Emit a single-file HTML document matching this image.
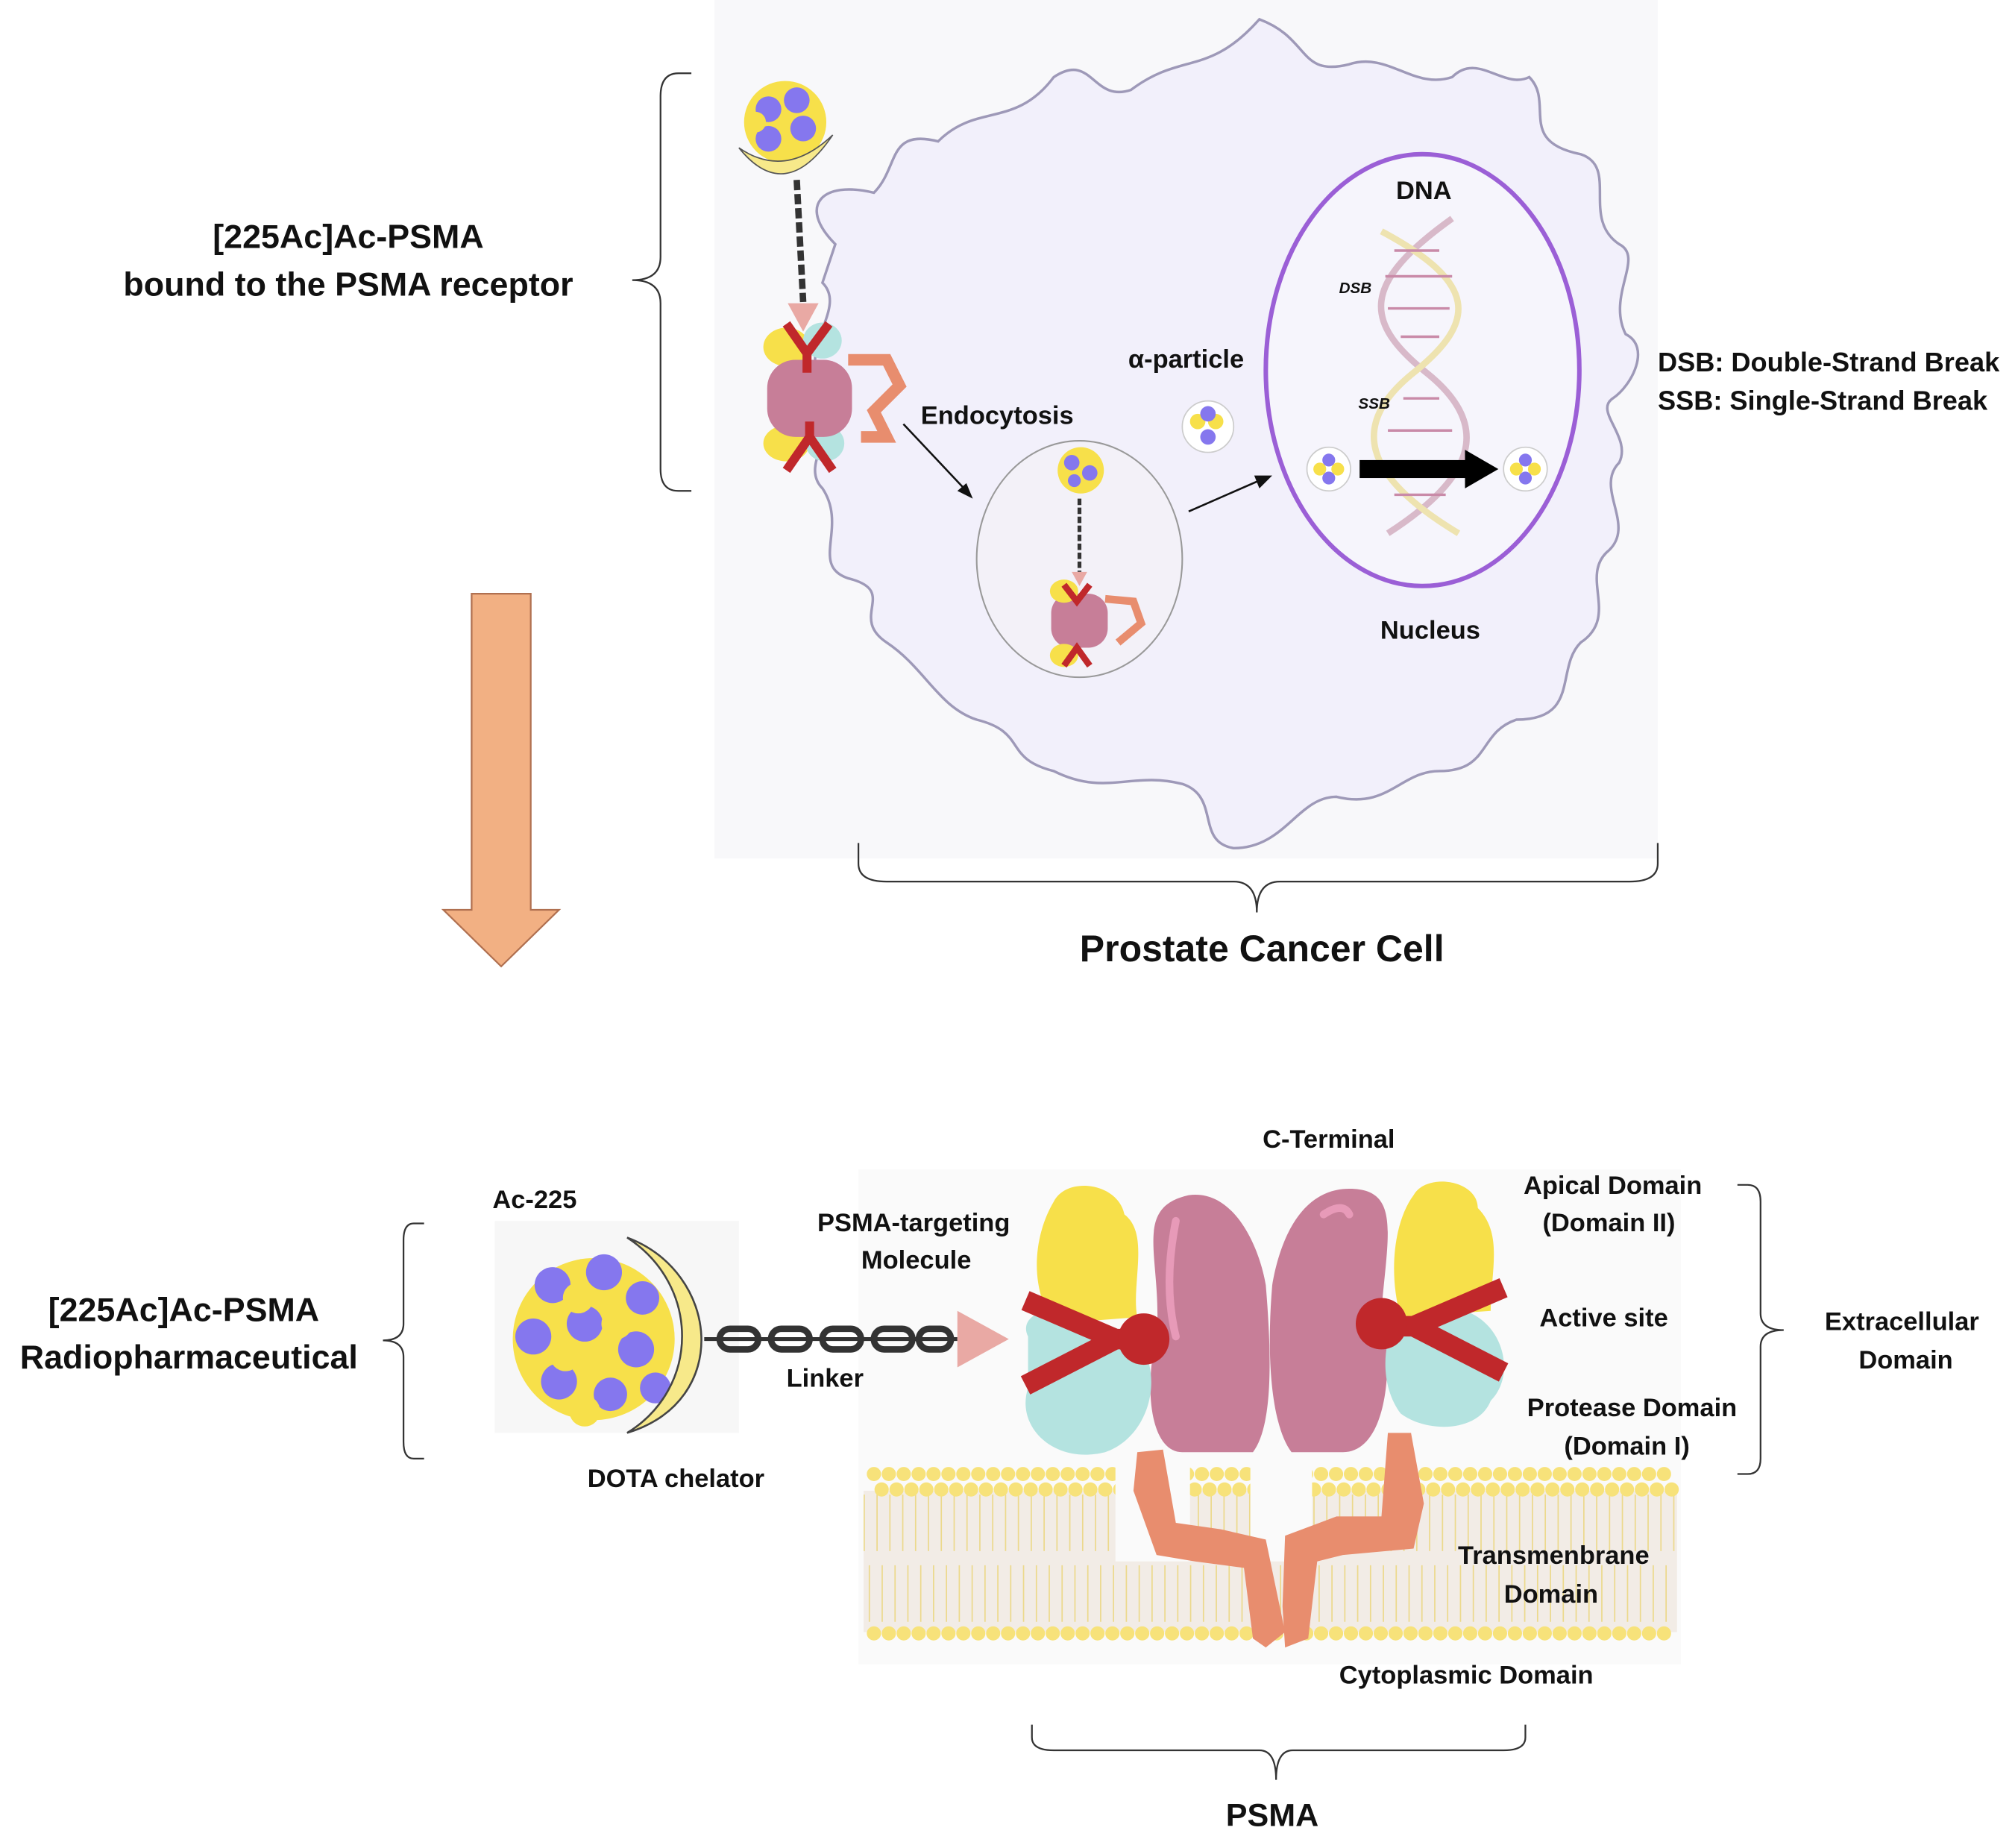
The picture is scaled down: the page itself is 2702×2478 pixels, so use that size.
<!DOCTYPE html>
<html><head><meta charset="utf-8"><style>
html,body{margin:0;padding:0;background:#fff}
svg{display:block}
text{font-family:"Liberation Sans",sans-serif;font-weight:bold;fill:#111}
</style></head><body>
<svg width="2702" height="2478" viewBox="0 0 1568 1438" preserveAspectRatio="none" xmlns="http://www.w3.org/2000/svg">
<rect width="1568" height="1438" fill="#fff"/>
<rect x="556" y="0" width="734" height="668" fill="#f8f8fa"/>
<path d="M650,190 C620,160 640,140 680,150 C700,130 690,100 730,110 C760,80 790,100 820,60 C850,40 850,80 880,70 C920,40 940,60 980,15 C1020,30 1010,60 1050,50 C1080,40 1100,70 1130,60 C1150,40 1170,70 1190,60 C1210,80 1180,110 1230,120 C1260,130 1230,170 1260,190 C1280,200 1250,230 1265,260 C1285,270 1270,300 1255,310 C1240,320 1270,340 1260,360 C1240,380 1275,410 1250,430 C1230,450 1260,480 1230,500 C1210,520 1230,560 1180,560 C1150,570 1160,600 1120,600 C1090,600 1080,630 1040,620 C1010,620 1000,660 960,660 C930,655 950,620 920,610 C880,600 860,620 820,600 C780,590 800,570 760,560 C730,550 720,520 690,500 C660,480 700,460 660,450 C630,440 660,410 640,380 C620,360 660,330 640,300 C620,270 660,240 640,220 Z" fill="#f2f0fb" stroke="#9e99b8" stroke-width="2"/>
<ellipse cx="1107" cy="288" rx="122" ry="168" fill="#f6f5fc" stroke="#9b5fd6" stroke-width="3.5"/>
<ellipse cx="840" cy="435" rx="80" ry="92" fill="#f3f1f8" stroke="#999" stroke-width="1.2"/>
<g stroke-width="5" fill="none">
<path d="M1130,170 C1060,220 1060,250 1110,290 C1160,330 1150,370 1080,415" stroke="#d8b9c9"/>
<path d="M1075,180 C1150,220 1150,250 1100,290 C1050,330 1060,370 1135,415" stroke="#eee3b0"/>
</g>
<g stroke="#c98aa8" stroke-width="2">
<line x1="1085" y1="195" x2="1120" y2="195"/><line x1="1078" y1="215" x2="1130" y2="215"/><line x1="1080" y1="240" x2="1128" y2="240"/><line x1="1090" y1="262" x2="1120" y2="262"/>
<line x1="1092" y1="310" x2="1120" y2="310"/><line x1="1080" y1="335" x2="1130" y2="335"/><line x1="1080" y1="360" x2="1130" y2="360"/><line x1="1085" y1="385" x2="1125" y2="385"/>
</g>
<text x="1108" y="155" font-size="20" text-anchor="middle">DNA</text>
<text x="1042" y="228" font-size="12" font-style="italic" font-weight="normal">DSB</text>
<text x="1057" y="318" font-size="12" font-style="italic" font-weight="normal">SSB</text>
<text x="1113" y="497" font-size="20" text-anchor="middle">Nucleus</text>
<rect x="1058" y="358" width="85" height="14" fill="#000"/>
<polygon points="1140,350 1166,365 1140,380" fill="#000"/>
<g>
<circle cx="940" cy="332" r="20" fill="#fff" stroke="#ccc"/><circle cx="932" cy="328" r="6" fill="#f7e04a"/><circle cx="946" cy="328" r="6" fill="#f7e04a"/><circle cx="940" cy="322" r="6" fill="#8577ee"/><circle cx="940" cy="340" r="6" fill="#8577ee"/>
<circle cx="1034" cy="365" r="17" fill="#fff" stroke="#ccc"/><circle cx="1027" cy="365" r="5" fill="#f7e04a"/><circle cx="1041" cy="365" r="5" fill="#f7e04a"/><circle cx="1034" cy="358" r="5" fill="#8577ee"/><circle cx="1034" cy="372" r="5" fill="#8577ee"/>
<circle cx="1187" cy="365" r="17" fill="#fff" stroke="#ccc"/><circle cx="1180" cy="365" r="5" fill="#f7e04a"/><circle cx="1194" cy="365" r="5" fill="#f7e04a"/><circle cx="1187" cy="358" r="5" fill="#8577ee"/><circle cx="1187" cy="372" r="5" fill="#8577ee"/>
</g>
<text x="923" y="286" font-size="20" text-anchor="middle">α-particle</text>
<text x="776" y="330" font-size="20" text-anchor="middle">Endocytosis</text>
<line x1="703" y1="330" x2="752" y2="382" stroke="#111" stroke-width="1.5"/><polygon points="757,388 745,382 752,376" fill="#111"/>
<line x1="925" y1="398" x2="982" y2="373" stroke="#111" stroke-width="1.5"/><polygon points="990,370 980,380 976,370" fill="#111"/>
<g>
<circle cx="611" cy="95" r="32" fill="#f7e04a"/>
<circle cx="598" cy="85" r="10" fill="#8577ee"/><circle cx="620" cy="78" r="10" fill="#8577ee"/><circle cx="625" cy="100" r="10" fill="#8577ee"/><circle cx="598" cy="108" r="10" fill="#8577ee"/><circle cx="588" cy="95" r="8" fill="#f7e04a"/>
<path d="M575,115 Q611,160 648,105 Q611,140 575,115Z" fill="#f7e98a" stroke="#555"/>
<line x1="620" y1="140" x2="625" y2="235" stroke="#333" stroke-width="5" stroke-dasharray="8,3"/>
<polygon points="613,236 637,236 625,258" fill="#e9a9a4"/>
<ellipse cx="612" cy="270" rx="18" ry="15" fill="#f7e04a"/><ellipse cx="640" cy="265" rx="15" ry="14" fill="#b4e3e0"/>
<ellipse cx="612" cy="345" rx="18" ry="14" fill="#f7e04a"/><ellipse cx="642" cy="345" rx="15" ry="14" fill="#b4e3e0"/>
<rect x="597" y="280" width="66" height="60" rx="22" fill="#c77e98"/>
<path d="M660,280 L690,280 L700,300 L680,320 L690,340 L670,340" stroke="#e88d6e" stroke-width="9" fill="none"/>
<path d="M612,252 L628,275 L645,252 M628,275 V290" stroke="#c0282b" stroke-width="7" fill="none"/>
<path d="M612,366 L630,340 L648,366 M630,340 V328" stroke="#c0282b" stroke-width="7" fill="none"/>
</g>
<g>
<circle cx="841" cy="366" r="18" fill="#f7e04a"/><circle cx="834" cy="360" r="6" fill="#8577ee"/><circle cx="848" cy="368" r="6" fill="#8577ee"/><circle cx="836" cy="374" r="5" fill="#8577ee"/>
<line x1="840" y1="388" x2="840" y2="445" stroke="#333" stroke-width="3" stroke-dasharray="5,2"/>
<polygon points="834,445 846,445 840,456" fill="#e9a9a4"/>
<rect x="818" y="462" width="44" height="42" rx="15" fill="#c77e98"/>
<ellipse cx="828" cy="460" rx="11" ry="9" fill="#f7e04a"/><ellipse cx="828" cy="510" rx="11" ry="9" fill="#f7e04a"/>
<path d="M860,466 L882,468 L888,485 L870,500" stroke="#e88d6e" stroke-width="6" fill="none"/>
<path d="M828,455 L838,468 L848,455 M828,518 L838,504 L848,518" stroke="#c0282b" stroke-width="5" fill="none"/>
</g>
<text x="1290" y="289" font-size="21">DSB: Double-Strand Break</text>
<text x="1290" y="319" font-size="21">SSB: Single-Strand Break</text>
<text x="271" y="193" font-size="26" text-anchor="middle">[225Ac]Ac-PSMA</text>
<text x="271" y="230" font-size="26" text-anchor="middle">bound to the PSMA receptor</text>
<path d="M538,57 H528 Q514,57 514,75 V200 Q514,218 492,218 Q514,218 514,236 V365 Q514,382 528,382 H538" fill="none" stroke="#333" stroke-width="1.3"/>
<path d="M668,656 V672 Q668,686 690,686 H960 Q978,686 978,710 Q978,686 996,686 H1268 Q1290,686 1290,672 V656" fill="none" stroke="#333" stroke-width="1.3"/>
<text x="982" y="748" font-size="29" text-anchor="middle">Prostate Cancer Cell</text>
<polygon points="367,462 413,462 413,708 435,708 390,752 345,708 367,708" fill="#f2b083" stroke="#b07050" stroke-width="1.3"/>
<rect x="385" y="950" width="190" height="165" fill="#f7f7f7"/>
<rect x="668" y="910" width="640" height="385" fill="#fafafa"/>
<rect x="672" y="1160" width="633" height="110" fill="#f2ece6"/>
<path d="M672,1185 H1305" stroke="#ecd98c" stroke-width="44" stroke-dasharray="1,9"/>
<path d="M676,1240 H1305" stroke="#ecd98c" stroke-width="44" stroke-dasharray="1,9"/>
<path d="M680,1147 H1305" stroke="#f7e27a" stroke-width="11" stroke-dasharray="0.1,11.5" stroke-linecap="round"/>
<path d="M686,1159 H1305" stroke="#f7e27a" stroke-width="11" stroke-dasharray="0.1,11.5" stroke-linecap="round"/>
<path d="M680,1271 H1305" stroke="#f7e27a" stroke-width="11" stroke-dasharray="0.1,11.5" stroke-linecap="round"/>
<rect x="868" y="1135" width="58" height="80" fill="#fafafa"/>
<rect x="973" y="1135" width="48" height="80" fill="#fafafa"/>
<path d="M920,1130 C895,1130 890,1080 900,1040 C905,980 880,940 925,930 C960,925 980,970 985,1000 C990,1060 990,1110 975,1130 Z" fill="#c77e98"/>
<path d="M1045,1130 C1080,1130 1085,1060 1075,1020 C1080,960 1090,925 1050,925 C1010,925 995,970 990,1000 C985,1060 990,1110 1005,1130 Z" fill="#c77e98"/>
<path d="M915,950 Q905,1000 915,1040 M1030,945 Q1045,935 1050,945" stroke="#e79ab8" stroke-width="6" fill="none" stroke-linecap="round"/>
<path d="M820,935 C830,915 870,920 875,945 C895,960 880,1000 885,1025 L820,1030 C800,1000 805,960 820,935Z" fill="#f7e04a"/>
<path d="M1100,930 C1110,912 1150,918 1150,940 C1170,960 1160,990 1160,1020 L1090,1025 C1080,990 1085,950 1100,930Z" fill="#f7e04a"/>
<path d="M800,1040 C790,1020 830,1010 850,1030 L890,1050 C905,1080 890,1120 860,1130 C820,1140 790,1110 800,1080Z" fill="#b4e3e0"/>
<path d="M1085,1030 L1140,1020 C1170,1030 1180,1070 1160,1090 C1150,1115 1110,1115 1090,1100 C1075,1080 1075,1050 1085,1030Z" fill="#b4e3e0"/>
<path d="M798,1012 L868,1042 M798,1078 L868,1042 M868,1042 H895" stroke="#c0282b" stroke-width="16" fill="none"/>
<circle cx="890" cy="1042" r="20" fill="#c0282b"/>
<path d="M1170,1002 L1100,1032 M1170,1068 L1100,1032 M1100,1032 H1075" stroke="#c0282b" stroke-width="16" fill="none"/>
<circle cx="1075" cy="1030" r="20" fill="#c0282b"/>
<path d="M885,1130 L905,1128 L915,1185 L950,1190 L985,1198 L1000,1270 L985,1282 L975,1275 L968,1220 L930,1215 L900,1210 L882,1160 Z" fill="#e88d6e"/>
<path d="M1080,1115 L1098,1115 L1108,1170 L1100,1205 L1045,1210 L1025,1215 L1018,1275 L1000,1282 L998,1250 L1000,1195 L1040,1180 L1075,1180 Z" fill="#e88d6e"/>
<g>
<circle cx="462" cy="1042" r="63" fill="#f7e04a"/>
<circle cx="430" cy="1000" r="14" fill="#8577ee"/><circle cx="470" cy="990" r="14" fill="#8577ee"/><circle cx="500" cy="1010" r="13" fill="#8577ee"/><circle cx="415" cy="1040" r="14" fill="#8577ee"/><circle cx="455" cy="1030" r="14" fill="#8577ee"/><circle cx="495" cy="1050" r="14" fill="#8577ee"/><circle cx="435" cy="1075" r="14" fill="#8577ee"/><circle cx="475" cy="1085" r="13" fill="#8577ee"/><circle cx="510" cy="1080" r="12" fill="#8577ee"/>
<circle cx="450" cy="1010" r="12" fill="#f7e04a"/><circle cx="480" cy="1030" r="12" fill="#f7e04a"/><circle cx="440" cy="1055" r="12" fill="#f7e04a"/><circle cx="455" cy="1098" r="12" fill="#f7e04a"/>
</g>
<path d="M488,963 C560,990 570,1090 488,1115 C545,1080 545,1000 488,963Z" fill="#f7e98a" stroke="#444" stroke-width="1.5"/>
<g fill="none" stroke="#333" stroke-width="5">
<line x1="548" y1="1042" x2="745" y2="1042" stroke-width="3"/>
<rect x="560" y="1034" width="30" height="16" rx="8"/><rect x="600" y="1034" width="30" height="16" rx="8"/><rect x="640" y="1034" width="30" height="16" rx="8"/><rect x="680" y="1034" width="30" height="16" rx="8"/><rect x="715" y="1034" width="25" height="16" rx="8"/>
</g>
<polygon points="745,1020 785,1042 745,1064" fill="#e9a9a4"/>
<g font-size="20" text-anchor="middle">
<text x="416" y="940">Ac-225</text>
<text x="711" y="958">PSMA-targeting</text>
<text x="713" y="987">Molecule</text>
<text x="642" y="1079">Linker</text>
<text x="526" y="1157">DOTA chelator</text>
<text x="1034" y="893">C-Terminal</text>
<text x="1255" y="929">Apical Domain</text>
<text x="1252" y="958">(Domain II)</text>
<text x="1248" y="1032">Active site</text>
<text x="1270" y="1102">Protease Domain</text>
<text x="1266" y="1132">(Domain I)</text>
<text x="1209" y="1217">Transmenbrane</text>
<text x="1207" y="1247">Domain</text>
<text x="1141" y="1310">Cytoplasmic Domain</text>
<text x="1480" y="1035">Extracellular</text>
<text x="1483" y="1065">Domain</text>
</g>
<text x="143" y="1028" font-size="26" text-anchor="middle">[225Ac]Ac-PSMA</text>
<text x="147" y="1065" font-size="26" text-anchor="middle">Radiopharmaceutical</text>
<text x="990" y="1421" font-size="25" text-anchor="middle">PSMA</text>
<path d="M330,952 H322 Q314,952 314,965 V1030 Q314,1043 298,1043 Q314,1043 314,1056 V1122 Q314,1135 322,1135 H330" fill="none" stroke="#333" stroke-width="1.3"/>
<path d="M1352,922 H1360 Q1370,922 1370,935 V1022 Q1370,1035 1388,1035 Q1370,1035 1370,1048 V1135 Q1370,1147 1360,1147 H1352" fill="none" stroke="#333" stroke-width="1.3"/>
<path d="M803,1342 V1352 Q803,1362 820,1362 H980 Q993,1362 993,1385 Q993,1362 1006,1362 H1170 Q1187,1362 1187,1352 V1342" fill="none" stroke="#333" stroke-width="1.3"/>
</svg>
</body></html>
